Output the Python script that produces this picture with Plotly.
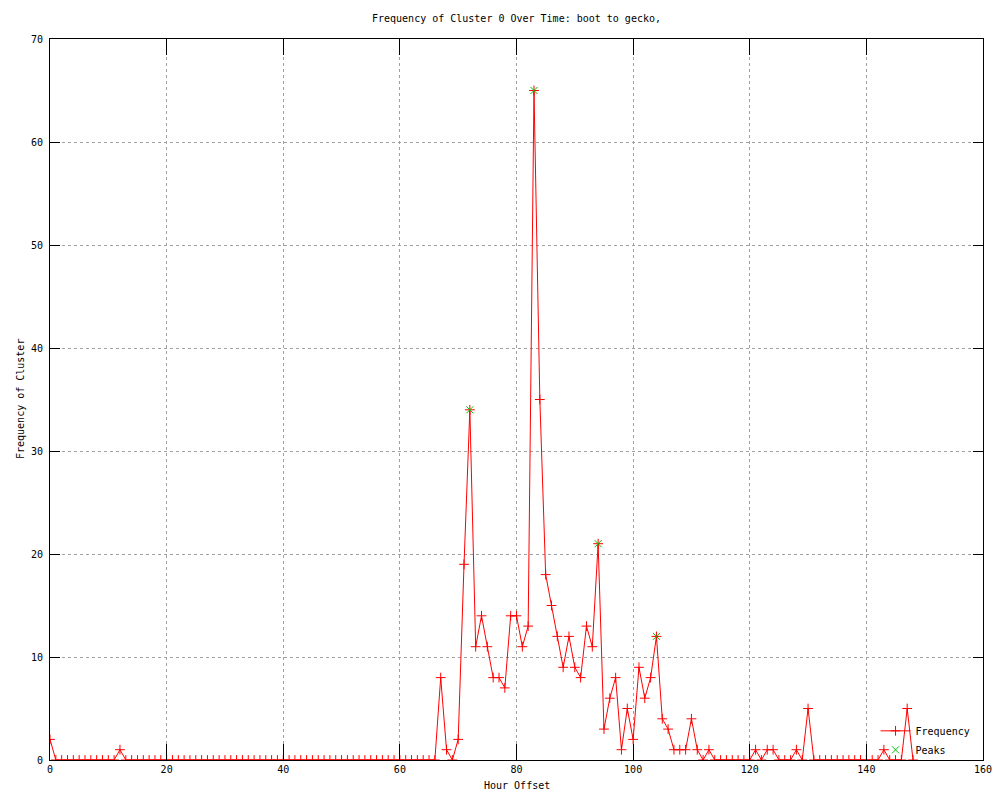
import plotly.graph_objects as go

# Frequency per hour offset (hours 0..148)
frequency = [
    2, 0, 0, 0, 0, 0, 0, 0, 0, 0,
    0, 0, 1, 0, 0, 0, 0, 0, 0, 0,
    0, 0, 0, 0, 0, 0, 0, 0, 0, 0,
    0, 0, 0, 0, 0, 0, 0, 0, 0, 0,
    0, 0, 0, 0, 0, 0, 0, 0, 0, 0,
    0, 0, 0, 0, 0, 0, 0, 0, 0, 0,
    0, 0, 0, 0, 0, 0, 0, 8, 1, 0,
    2, 19, 34, 11, 14, 11, 8, 8, 7, 14,
    14, 11, 13, 65, 35, 18, 15, 12, 9, 12,
    9, 8, 13, 11, 21, 3, 6, 8, 1, 5,
    2, 9, 6, 8, 12, 4, 3, 1, 1, 1,
    4, 1, 0, 1, 0, 0, 0, 0, 0, 0,
    0, 1, 0, 1, 1, 0, 0, 0, 1, 0,
    5, 0, 0, 0, 0, 0, 0, 0, 0, 0,
    0, 0, 0, 1, 0, 0, 0, 5, 0,
]
hours = list(range(len(frequency)))

peak_hours = [72, 83, 94, 104]
peak_values = [34, 65, 21, 12]

title_text = "Frequency of Cluster 0 Over Time: boot to gecko,"
x_title = "Hour Offset"
y_title = "Frequency of Cluster"

FONT = "DejaVu Sans Mono"
RED = "#ff0000"
GREEN = "#00c000"

W, H = 992, 792  # page body has an 8px margin

fig = go.Figure()
fig.add_trace(go.Scatter(
    x=hours, y=frequency, name="Frequency", mode="lines+markers",
    line=dict(color=RED, width=1),
    marker=dict(symbol="cross-thin", size=7, line=dict(color=RED, width=1), color=RED),
))
fig.add_trace(go.Scatter(
    x=peak_hours, y=peak_values, name="Peaks", mode="markers",
    marker=dict(symbol="x-thin", size=7, line=dict(color=GREEN, width=1), color=GREEN),
))

axis_common = dict(
    showline=True, linecolor="black", linewidth=1, mirror="ticks",
    ticks="inside", tickcolor="black", tickwidth=1,
    showgrid=True, gridcolor="#a0a0a0", griddash="dot", gridwidth=1,
    zeroline=False, layer="above traces",
    tickfont=dict(family=FONT, size=10, color="black"),
)

fig.update_layout(
    width=W, height=H,
    paper_bgcolor="white", plot_bgcolor="white",
    margin=dict(l=42, r=17, t=31, b=40, autoexpand=False),
    font=dict(family=FONT, size=10, color="black"),
    title=dict(text=title_text, x=0.5, xref="paper", xanchor="center",
               y=1 - 10 / H, yref="container", yanchor="middle",
               font=dict(family=FONT, size=10, color="black")),
    xaxis=dict(range=[0, 160], dtick=20, tick0=0, ticklen=16, **axis_common),
    yaxis=dict(range=[0, 70], dtick=10, tick0=0, ticklen=10, ticklabelstandoff=4,
               **axis_common),
    showlegend=True,
    legend=dict(x=0.992, y=-0.006, xanchor="right", yanchor="bottom",
                bgcolor="rgba(0,0,0,0)", font=dict(family=FONT, size=10),
                tracegroupgap=0, itemwidth=30),
    annotations=[
        dict(text=x_title, xref="paper", yref="paper", x=0.5, y=0,
             yshift=-33, showarrow=False, font=dict(family=FONT, size=10)),
        dict(text=y_title, xref="paper", yref="paper", x=0, y=0.5,
             xshift=-37, textangle=-90, showarrow=False, font=dict(family=FONT, size=10)),
    ],
)

fig.write_html("out.html")
